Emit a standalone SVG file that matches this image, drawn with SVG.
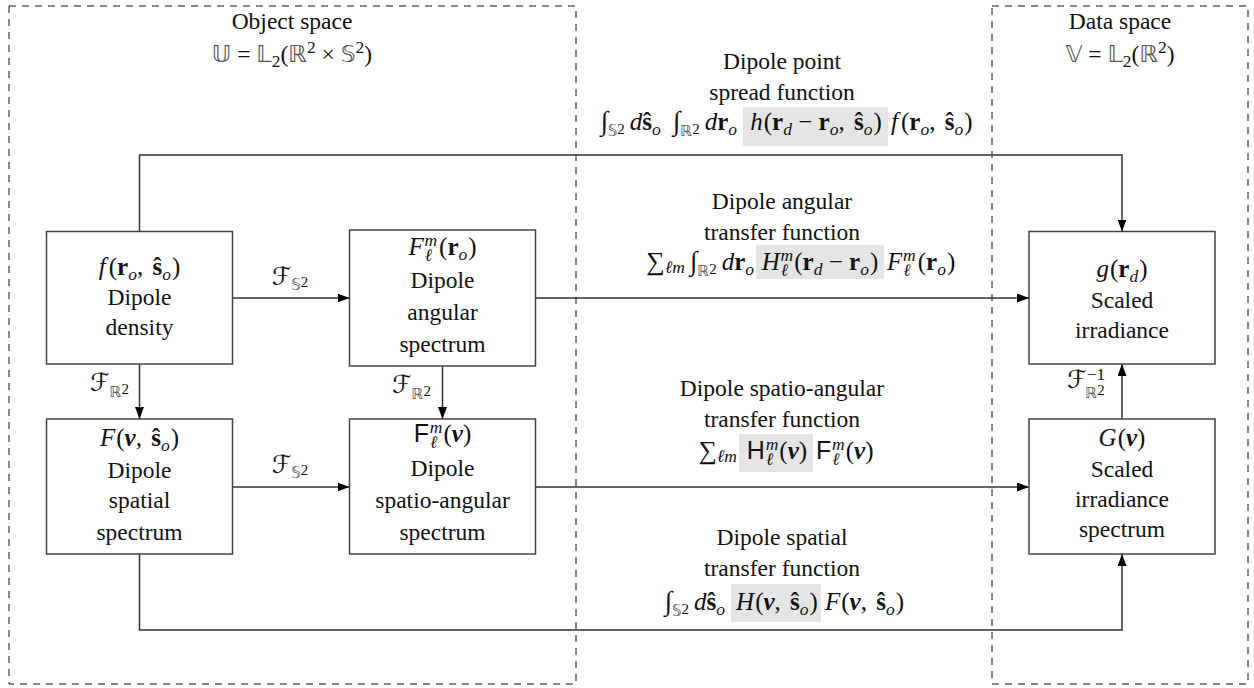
<svg xmlns="http://www.w3.org/2000/svg" width="1254" height="688" viewBox="0 0 1254 688">
<style>
.t{font-family:"Liberation Serif","DejaVu Serif","DejaVu Sans",serif;font-size:23.5px;fill:#111}
.m{font-size:25px}
.i{font-style:italic}
.b{font-weight:bold}
.bi{font-weight:bold;font-style:italic}
.bb{font-family:"DejaVu Sans",sans-serif;fill:#555}
.sf{font-family:"Liberation Sans","DejaVu Sans",sans-serif}
.sc{font-family:"DejaVu Serif","DejaVu Sans",serif;font-style:italic}
.s{font-size:17.5px}
.s2{font-size:15px}
.box{fill:#fff;stroke:#444;stroke-width:1.5}
.dash{fill:none;stroke:#111;stroke-width:1;stroke-dasharray:7 6}
.hl{fill:#e5e5e5}
.c{fill:none;stroke:#333;stroke-width:1.5}
</style>
<defs>
<marker id="arr" markerUnits="userSpaceOnUse" markerWidth="12" markerHeight="9" refX="12" refY="4.5" orient="auto">
<path d="M0,0 L12,4.5 L0,9 z" fill="#000"/>
</marker>
</defs>

<g id="regions">
<rect class="dash" x="9" y="6" width="567" height="678"/>
<rect class="dash" x="992" y="6" width="256" height="678"/>
<text class="t" x="292" y="29" text-anchor="middle">Object space</text>
<text class="t" x="292" y="62" text-anchor="middle"><tspan class="bb">𝕌</tspan> = <tspan class="bb">𝕃</tspan><tspan class="s" dy="5">2</tspan><tspan dy="-5">(</tspan><tspan class="bb">ℝ</tspan><tspan class="s" dy="-9">2</tspan><tspan dy="9"> × </tspan><tspan class="bb">𝕊</tspan><tspan class="s" dy="-9">2</tspan><tspan dy="9">)</tspan></text>
<text class="t" x="1120" y="29" text-anchor="middle">Data space</text>
<text class="t" x="1120" y="62" text-anchor="middle"><tspan class="bb">𝕍</tspan> = <tspan class="bb">𝕃</tspan><tspan class="s" dy="5">2</tspan><tspan dy="-5">(</tspan><tspan class="bb">ℝ</tspan><tspan class="s" dy="-9">2</tspan><tspan dy="9">)</tspan></text>
</g>

<g id="highlights">
<rect class="hl" x="743" y="107" width="145" height="39"/>
<rect class="hl" x="756" y="245" width="128" height="34"/>
<rect class="hl" x="739" y="434" width="74" height="38"/>
<rect class="hl" x="731" y="584" width="90" height="38"/>
</g>

<g id="connectors">
<path class="c" d="M139.5,231.5 V155 H1122 V231.5" marker-end="url(#arr)"/>
<path class="c" d="M232.5,298 H349.5" marker-end="url(#arr)"/>
<path class="c" d="M535.5,298 H1029" marker-end="url(#arr)"/>
<path class="c" d="M139.5,364 V419" marker-end="url(#arr)"/>
<path class="c" d="M442.5,366 V419" marker-end="url(#arr)"/>
<path class="c" d="M232.5,487 H349.5" marker-end="url(#arr)"/>
<path class="c" d="M535.5,487 H1029" marker-end="url(#arr)"/>
<path class="c" d="M139.5,554 V630 H1122 V554" marker-end="url(#arr)"/>
<path class="c" d="M1122,419 V364" marker-end="url(#arr)"/>
<text class="t m" x="290" y="285" text-anchor="middle"><tspan class="sc">ℱ</tspan><tspan class="bb s2" dy="5">𝕊</tspan><tspan class="s2" dy="-3">2</tspan></text>
<text class="t m" x="290" y="473" text-anchor="middle"><tspan class="sc">ℱ</tspan><tspan class="bb s2" dy="5">𝕊</tspan><tspan class="s2" dy="-3">2</tspan></text>
<text class="t m" x="129" y="391" text-anchor="end"><tspan class="sc">ℱ</tspan><tspan class="bb s2" dy="6">ℝ</tspan><tspan class="s2" dy="-3">2</tspan></text>
<text class="t m" x="431" y="393" text-anchor="end"><tspan class="sc">ℱ</tspan><tspan class="bb s2" dy="6">ℝ</tspan><tspan class="s2" dy="-3">2</tspan></text>
<text class="t m" x="1067" y="388"><tspan class="sc">ℱ</tspan><tspan class="s" dy="-8">−1</tspan><tspan class="bb s2" dx="-20" dy="18">ℝ</tspan><tspan class="s2" dy="-3">2</tspan></text>

<text class="t" x="782" y="69" text-anchor="middle">Dipole point</text>
<text class="t" x="782" y="100" text-anchor="middle">spread function</text>
<text class="t m" x="737" y="130" text-anchor="end"><tspan font-size="27">∫</tspan><tspan class="bb s2" dy="6">𝕊</tspan><tspan class="s2" dy="-2">2</tspan><tspan class="i" dx="5" dy="-4">d</tspan><tspan class="b">ŝ</tspan><tspan class="i s" dy="5">o</tspan><tspan font-size="27" dx="12" dy="-5">∫</tspan><tspan class="bb s2" dy="6">ℝ</tspan><tspan class="s2" dy="-2">2</tspan><tspan class="i" dx="5" dy="-4">d</tspan><tspan class="b">r</tspan><tspan class="i s" dy="5">o</tspan></text>
<text class="t m" x="816" y="130" text-anchor="middle"><tspan class="i">h</tspan><tspan dx="1">(</tspan><tspan class="b">r</tspan><tspan class="i s" dy="5">d</tspan><tspan dy="-5"> − </tspan><tspan class="b">r</tspan><tspan class="i s" dy="5">o</tspan><tspan dy="-5">, </tspan><tspan class="b" dx="3">ŝ</tspan><tspan class="i s" dy="5">o</tspan><tspan dy="-5" dx="1">)</tspan></text>
<text class="t m" x="891" y="130"><tspan class="i">f</tspan><tspan dx="3">(</tspan><tspan class="b">r</tspan><tspan class="i s" dy="5">o</tspan><tspan dy="-5">, </tspan><tspan class="b" dx="3">ŝ</tspan><tspan class="i s" dy="5">o</tspan><tspan dy="-5" dx="1">)</tspan></text>

<text class="t" x="782" y="209" text-anchor="middle">Dipole angular</text>
<text class="t" x="782" y="240" text-anchor="middle">transfer function</text>
<text class="t m" x="754" y="270" text-anchor="end"><tspan font-size="26">∑</tspan><tspan class="i s" dy="3">ℓm</tspan><tspan font-size="27" dx="5" dy="-3">∫</tspan><tspan class="bb s2" dy="6">ℝ</tspan><tspan class="s2" dy="-2">2</tspan><tspan class="i" dx="5" dy="-4">d</tspan><tspan class="b">r</tspan><tspan class="i s" dy="5">o</tspan></text>
<text class="t m" x="820" y="270" text-anchor="middle"><tspan class="i">H</tspan><tspan class="i s" dx="1" dy="6">ℓ</tspan><tspan class="i s" dx="-7.5" dy="-15">m</tspan><tspan dx="1" dy="9">(</tspan><tspan class="b">r</tspan><tspan class="i s" dy="5">d</tspan><tspan dy="-5"> − </tspan><tspan class="b">r</tspan><tspan class="i s" dy="5">o</tspan><tspan dy="-5" dx="1">)</tspan></text>
<text class="t m" x="887" y="270"><tspan class="i">F</tspan><tspan class="i s" dx="1" dy="6">ℓ</tspan><tspan class="i s" dx="-7.5" dy="-15">m</tspan><tspan dx="2" dy="9">(</tspan><tspan class="b">r</tspan><tspan class="i s" dy="5">o</tspan><tspan dy="-5" dx="1">)</tspan></text>

<text class="t" x="782" y="396" text-anchor="middle">Dipole spatio-angular</text>
<text class="t" x="782" y="427" text-anchor="middle">transfer function</text>
<text class="t m" x="737" y="459" text-anchor="end"><tspan font-size="26">∑</tspan><tspan class="i s" dy="3">ℓm</tspan></text>
<text class="t m" x="777" y="459" text-anchor="middle"><tspan class="sf">H</tspan><tspan class="i s" dx="1" dy="6">ℓ</tspan><tspan class="i s" dx="-7.5" dy="-15">m</tspan><tspan dx="1" dy="9">(</tspan><tspan class="bi">ν</tspan>)</text>
<text class="t m" x="816" y="459"><tspan class="sf">F</tspan><tspan class="i s" dx="1" dy="6">ℓ</tspan><tspan class="i s" dx="-7.5" dy="-15">m</tspan><tspan dx="1" dy="9">(</tspan><tspan class="bi">ν</tspan>)</text>

<text class="t" x="782" y="545" text-anchor="middle">Dipole spatial</text>
<text class="t" x="782" y="576" text-anchor="middle">transfer function</text>
<text class="t m" x="725" y="610" text-anchor="end"><tspan font-size="27">∫</tspan><tspan class="bb s2" dy="6">𝕊</tspan><tspan class="s2" dy="-2">2</tspan><tspan class="i" dx="5" dy="-4">d</tspan><tspan class="b">ŝ</tspan><tspan class="i s" dy="5">o</tspan></text>
<text class="t m" x="777" y="610" text-anchor="middle"><tspan class="i">H</tspan><tspan dx="1">(</tspan><tspan class="bi">ν</tspan>, <tspan class="b" dx="3">ŝ</tspan><tspan class="i s" dy="5">o</tspan><tspan dy="-5" dx="1">)</tspan></text>
<text class="t m" x="825" y="610"><tspan class="i">F</tspan><tspan dx="1">(</tspan><tspan class="bi">ν</tspan>, <tspan class="b" dx="3">ŝ</tspan><tspan class="i s" dy="5">o</tspan><tspan dy="-5" dx="1">)</tspan></text>
</g>

<g id="node-f">
<rect class="box" x="46.5" y="231.5" width="186" height="132.5"/>
<text class="t m" x="139.5" y="275" text-anchor="middle"><tspan class="i">f</tspan><tspan dx="3">(</tspan><tspan class="b">r</tspan><tspan class="i s" dy="5">o</tspan><tspan dy="-5">, </tspan><tspan class="b" dx="3">ŝ</tspan><tspan class="i s" dy="5">o</tspan><tspan dy="-5" dx="1">)</tspan></text>
<text class="t" x="139.5" y="305" text-anchor="middle">Dipole</text>
<text class="t" x="139.5" y="335" text-anchor="middle">density</text>
</g>

<g id="node-Flm-r">
<rect class="box" x="349.5" y="230" width="186" height="136"/>
<text class="t m" x="442.5" y="255" text-anchor="middle"><tspan class="i">F</tspan><tspan class="i s" dx="1" dy="6">ℓ</tspan><tspan class="i s" dx="-7.5" dy="-15">m</tspan><tspan dx="2" dy="9">(</tspan><tspan class="b">r</tspan><tspan class="i s" dy="5">o</tspan><tspan dy="-5" dx="1">)</tspan></text>
<text class="t" x="442.5" y="288" text-anchor="middle">Dipole</text>
<text class="t" x="442.5" y="320" text-anchor="middle">angular</text>
<text class="t" x="442.5" y="352" text-anchor="middle">spectrum</text>
</g>

<g id="node-F-nu">
<rect class="box" x="46.5" y="419" width="186" height="135"/>
<text class="t m" x="139.5" y="446" text-anchor="middle"><tspan class="i">F</tspan><tspan dx="1">(</tspan><tspan class="bi">ν</tspan>, <tspan class="b" dx="3">ŝ</tspan><tspan class="i s" dy="5">o</tspan><tspan dy="-5" dx="1">)</tspan></text>
<text class="t" x="139.5" y="478" text-anchor="middle">Dipole</text>
<text class="t" x="139.5" y="508" text-anchor="middle">spatial</text>
<text class="t" x="139.5" y="540" text-anchor="middle">spectrum</text>
</g>

<g id="node-Flm-nu">
<rect class="box" x="349.5" y="419" width="186" height="135"/>
<text class="t m" x="442.5" y="442" text-anchor="middle"><tspan class="sf">F</tspan><tspan class="i s" dx="1" dy="6">ℓ</tspan><tspan class="i s" dx="-7.5" dy="-15">m</tspan><tspan dx="1" dy="9">(</tspan><tspan class="bi">ν</tspan>)</text>
<text class="t" x="442.5" y="476" text-anchor="middle">Dipole</text>
<text class="t" x="442.5" y="508" text-anchor="middle">spatio-angular</text>
<text class="t" x="442.5" y="540" text-anchor="middle">spectrum</text>
</g>

<g id="node-g">
<rect class="box" x="1029" y="231.5" width="186" height="132.5"/>
<text class="t m" x="1122" y="277" text-anchor="middle"><tspan class="i">g</tspan><tspan dx="1">(</tspan><tspan class="b">r</tspan><tspan class="i s" dy="5">d</tspan><tspan dy="-5" dx="1">)</tspan></text>
<text class="t" x="1122" y="308" text-anchor="middle">Scaled</text>
<text class="t" x="1122" y="338" text-anchor="middle">irradiance</text>
</g>

<g id="node-G">
<rect class="box" x="1029" y="419" width="186" height="135"/>
<text class="t m" x="1122" y="446" text-anchor="middle"><tspan class="i">G</tspan><tspan dx="1">(</tspan><tspan class="bi">ν</tspan>)</text>
<text class="t" x="1122" y="477" text-anchor="middle">Scaled</text>
<text class="t" x="1122" y="507" text-anchor="middle">irradiance</text>
<text class="t" x="1122" y="537" text-anchor="middle">spectrum</text>
</g>
</svg>
